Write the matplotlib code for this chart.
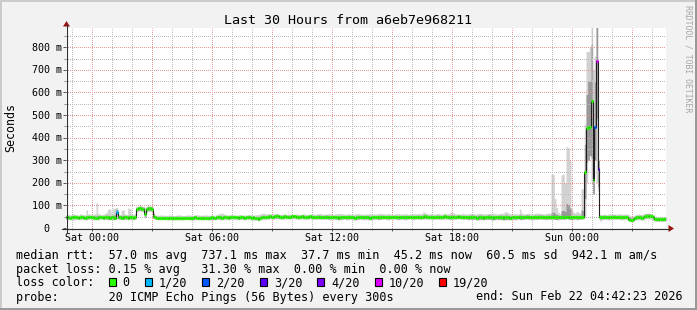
import numpy as np
import matplotlib
matplotlib.use("Agg")
import matplotlib.pyplot as plt
import matplotlib.dates as mdates
import matplotlib.transforms as mtrans
from matplotlib.patches import Rectangle, Polygon
from matplotlib.lines import Line2D
from matplotlib.ticker import MultipleLocator
from datetime import datetime, timedelta

plt.rcParams['font.family'] = ['DejaVu Sans Mono']

# ---------------- data ----------------
title = "Last 30 Hours from a6eb7e968211"
y_label = "Seconds"
watermark = "RRDTOOL / TOBI OETIKER"
start = datetime(2026, 2, 20, 22, 42, 23)
step_minutes = 5
y_max = 0.885

x_tick_times = [datetime(2026, 2, 21, 0, 0), datetime(2026, 2, 21, 6, 0),
                datetime(2026, 2, 21, 12, 0), datetime(2026, 2, 21, 18, 0),
                datetime(2026, 2, 22, 0, 0)]
x_tick_labels = ["Sat 00:00", "Sat 06:00", "Sat 12:00", "Sat 18:00", "Sun 00:00"]
y_tick_values = [0.0, 0.1, 0.2, 0.3, 0.4, 0.5, 0.6, 0.7, 0.8]
y_tick_labels = ["0", "100 m", "200 m", "300 m", "400 m", "500 m", "600 m", "700 m", "800 m"]

median_ms = np.array("""
47 48 46 47 49 48 47 46 48 49 47 46 47 48 50 49 47 46 45 47 48 47 46 48 49 47 46 48 47 46
72 48 47 46 47 48 47 46 47 48 46 47 84 87 88 86 85 60 84 88 87 86 54 47 45 44 45 44 45 44
45 44 46 45 44 45 46 45 44 43 44 45 46 45 44 45 46 47 46 45 44 45 46 45 44 45 46 47 46 45
47 48 47 46 47 48 47 46 47 48 49 48 47 46 47 48 47 46 47 48 47 46 47 45 44 42 46 48 49 48
49 50 51 50 49 52 53 51 50 49 50 51 50 49 50 51 52 51 50 49 50 51 50 49 48 50 51 50 49 48
49 50 49 48 49 50 49 48 47 48 49 48 47 46 47 48 49 48 47 48 49 48 47 46 47 48 49 48 47 48
48 47 46 47 48 49 48 47 48 49 50 49 48 47 48 49 50 49 48 47 48 49 48 47 48 49 50 49 48 49
50 49 48 49 50 51 50 49 50 49 48 49 50 49 48 49 50 51 50 49 48 49 50 49 50 51 50 49 48 49
48 47 48 49 48 47 46 47 48 47 46 47 48 49 48 47 46 47 48 47 48 47 46 47 48 47 46 47 48 47
48 49 48 47 48 49 50 49 48 47 48 49 48 49 50 49 48 47 48 49 48 49 50 49 48 49 48 47 48 49
48 49 48 47 48 49 48 47 48 49 48 250 441 449 449 560 213 446 737 263 48 47 48 49 48 47 48 49 50 49
48 49 48 47 48 49 48 42 37 36 40 46 47 48 47 46 47 52 54 53 54 52 48 40 39 38 39 38 39 40
""".split(), dtype=float)

smoke_hi_ms = np.array("""
58 60 57 59 62 60 58 57 63 60 59 58 80 62 60 58 61 63 112 65 60 58 62 64 70 84 84 66 86 88
90 62 60 79 81 62 60 88 86 63 60 64 95 96 98 95 94 90 96 97 96 95 70 58 57 56 58 57 56 57
56 57 58 57 56 55 57 58 57 56 55 56 57 58 57 56 57 58 59 58 57 56 57 58 57 56 57 58 57 56
60 62 65 66 64 60 58 57 59 60 58 57 56 58 60 58 57 56 58 60 59 58 57 58 59 60 62 66 65 63
62 64 63 60 62 64 65 62 60 61 62 60 59 61 62 60 59 60 62 61 60 59 61 62 60 59 60 62 61 60
62 63 64 62 60 61 62 63 64 62 60 62 63 64 65 63 62 60 62 63 62 61 60 62 63 64 62 61 60 62
61 62 63 64 62 61 63 64 65 63 62 61 63 64 62 61 60 62 63 64 62 61 62 63 62 61 62 63 64 62
62 63 64 63 72 68 64 62 63 62 61 62 63 64 62 61 63 64 62 63 68 70 66 63 62 61 62 63 64 62
62 63 64 65 63 62 63 64 65 64 63 62 63 64 65 64 66 63 62 63 64 65 66 72 70 66 64 63 62 64
62 63 84 66 63 62 64 65 63 62 63 64 66 65 63 64 62 63 65 66 64 240 236 130 90 70 64 235 240 200
360 355 300 80 70 66 73 70 65 172 173 460 781 781 800 900 700 760 900 300 60 58 62 60 58 62 63 61 60 62
60 62 63 61 60 62 61 60 55 52 54 58 60 62 61 60 62 64 65 66 64 62 56 52 50 48 50 49 48 50
""".split(), dtype=float)

smoke_lo_ms = np.array("""
38 37 39 38 36 37 38 39 37 36 38 37 36 38 39 37 36 38 37 36 38 39 37 38 36 37 38 37 36 38
40 38 37 39 38 36 37 38 39 37 38 37 70 74 75 72 71 45 70 74 73 72 42 38 37 36 37 36 37 36
37 36 37 38 36 35 36 37 36 35 36 37 38 37 36 35 36 37 38 37 36 35 36 37 36 35 36 37 38 37
38 37 36 37 38 37 36 37 38 39 38 37 36 37 38 37 36 37 38 37 36 37 36 35 34 32 35 37 38 37
39 40 41 40 39 40 41 40 39 38 39 40 41 40 39 40 41 40 39 38 39 40 39 38 37 39 40 39 38 37
38 39 38 37 38 39 38 37 36 37 38 37 36 35 36 37 38 37 36 37 38 37 36 35 36 37 38 37 36 37
37 36 35 36 37 38 37 36 37 38 39 38 37 36 37 38 39 38 37 36 37 38 37 36 37 38 39 38 37 38
39 38 37 38 39 40 39 38 39 38 37 38 39 38 37 38 39 40 39 38 37 38 39 38 39 40 39 38 37 38
37 36 37 38 37 36 35 36 37 36 35 36 37 38 37 36 35 36 37 36 37 36 35 36 37 36 35 36 37 36
37 38 37 36 37 38 39 38 37 36 37 38 37 38 39 38 37 36 37 38 37 40 40 38 37 36 37 40 40 40
42 40 38 37 38 37 36 37 38 40 42 48 200 300 320 200 150 300 200 160 30 36 37 38 37 36 37 38 39 38
37 38 37 36 37 38 37 34 30 29 31 35 36 37 36 35 36 40 42 43 41 37 32 30 29 30 31 30 29 31
""".split(), dtype=float)

smoke_core_ms = np.array("""
6 6 5 6 7 6 6 5 6 7 6 6 8 6 6 5 6 7 10 6 6 5 6 7 8 9 9 7 10 12
12 6 6 9 9 6 6 10 9 6 6 6 8 8 9 8 8 10 8 9 8 8 10 6 6 5 6 5 6 5
5 6 6 5 6 5 6 6 5 6 5 6 6 5 6 5 6 6 5 6 5 6 6 5 6 5 6 6 5 6
6 6 7 7 6 6 5 6 6 5 6 6 5 6 6 5 6 6 5 6 6 5 6 6 7 8 6 7 7 6
7 7 6 6 7 7 8 7 6 6 7 6 6 7 6 6 7 6 6 7 6 6 7 6 6 7 6 6 7 6
7 7 7 6 6 7 7 7 6 6 6 7 7 7 8 7 6 6 7 7 6 6 6 7 7 7 6 6 6 7
6 7 7 7 6 6 7 7 8 7 6 6 7 7 6 6 6 7 7 7 6 6 6 7 6 6 6 7 7 6
7 7 7 7 8 8 7 6 7 6 6 6 7 7 6 6 7 7 6 7 8 8 7 7 6 6 6 7 7 6
7 8 8 9 8 7 8 9 9 8 8 7 8 9 9 8 9 8 7 8 9 9 9 10 9 8 8 7 7 8
7 7 10 8 7 7 8 8 7 7 7 8 8 8 7 8 7 7 8 8 8 20 20 15 12 8 7 30 30 25
60 55 40 8 7 7 8 7 7 30 30 120 150 200 200 250 150 200 250 80 8 7 6 7 6 7 6 7 8 7
6 7 6 7 6 7 6 8 9 9 8 7 6 7 6 7 6 8 9 9 8 7 8 7 6 7 6 7 6 7
""".split(), dtype=float)

lost_pings = np.array("""
0 0 0 0 0 0 0 0 0 0 0 0 0 0 0 0 0 0 0 0 0 0 0 0 0 0 0 0 0 0
1 0 0 0 0 0 0 0 0 0 0 0 0 0 0 0 0 0 0 0 0 0 0 0 0 0 0 0 0 0
0 0 0 0 0 0 0 0 0 0 0 0 0 0 0 0 0 0 0 0 0 0 0 0 0 0 0 0 0 0
0 0 0 0 0 0 0 0 0 0 0 0 0 0 0 0 0 0 0 0 0 0 0 0 0 0 0 0 0 0
0 0 0 0 0 0 0 0 0 0 0 0 0 0 0 0 0 0 0 0 0 0 0 0 0 0 0 0 0 0
0 0 0 0 0 0 0 0 0 0 0 0 0 0 0 0 0 0 0 0 0 0 0 0 0 0 0 0 0 0
0 0 0 0 0 0 0 0 0 0 0 0 0 0 0 0 0 0 0 0 0 0 0 0 0 0 0 0 0 0
0 0 0 0 0 0 0 0 0 0 0 0 0 0 0 0 0 0 0 0 0 0 0 0 0 0 0 0 0 0
0 0 0 0 0 0 0 0 0 0 0 0 0 0 0 0 0 0 0 0 0 0 0 0 0 0 0 0 0 0
0 0 0 0 0 0 0 0 0 0 0 0 0 0 0 0 0 0 0 0 0 0 0 0 0 0 0 0 0 0
0 0 0 0 0 0 0 0 0 0 0 0 0 0 0 0 0 2 10 3 0 0 0 0 0 0 0 0 0 0
0 0 0 0 0 0 0 0 0 0 0 0 0 0 0 0 0 0 0 0 0 0 0 0 0 0 0 0 0 0
""".split(), dtype=int)

loss_thresholds = [0, 1, 2, 3, 4, 10, 19]
loss_labels = ["0", "1/20", "2/20", "3/20", "4/20", "10/20", "19/20"]
loss_colors = ["#26ff00", "#00b8ff", "#0059ff", "#5e00ff", "#7e00ff", "#dd00ff", "#ff0000"]

legend_row1 = "median rtt:  57.0 ms avg  737.1 ms max  37.7 ms min  45.2 ms now  60.5 ms sd  942.1 m am/s"
legend_row2 = "packet loss: 0.15 % avg   31.30 % max  0.00 % min  0.00 % now"
legend_row3 = "loss color:"
legend_row4 = "probe:       20 ICMP Echo Pings (56 Bytes) every 300s"
end_text = "end: Sun Feb 22 04:42:23 2026"

# ---------------- figure ----------------
W, H, DPI = 697, 310, 100
fig = plt.figure(figsize=(W / DPI, H / DPI), dpi=DPI, facecolor='#f2f2f2')


def fx(x):
    return x / W


def fy(y):
    return 1 - y / H


ax = fig.add_axes([fx(66), fy(228), 600 / W, 200 / H])
ax.set_facecolor('#ffffff')
for s in ax.spines.values():
    s.set_visible(False)

n = len(median_ms)
t_edges = mdates.date2num([start + timedelta(minutes=step_minutes * i) for i in range(n + 1)])

med = median_ms / 1000.0
hi = smoke_hi_ms / 1000.0
lo = smoke_lo_ms / 1000.0
core = smoke_core_ms / 1000.0
core_lo = np.maximum(med - core, lo)
core_hi = np.minimum(med + core, hi)


def ext(a):
    return np.append(a, a[-1])


ax.fill_between(t_edges, ext(lo), ext(hi), step='post', color='#d2d2d2', lw=0, zorder=1)
ax.fill_between(t_edges, ext(core_lo), ext(core_hi), step='post', color='#999999', lw=0, zorder=1.1)
ax.step(t_edges, ext(med), where='post', color='#202020', lw=0.8, zorder=3)

sample_colors = []
for lp in lost_pings:
    c = loss_colors[0]
    for th, col in zip(loss_thresholds, loss_colors):
        if lp >= th:
            c = col
    sample_colors.append(c)
ax.hlines(med, t_edges[:-1], t_edges[1:], colors=sample_colors, lw=2.3, zorder=3.5,
          capstyle='butt')

ax.set_xlim(t_edges[0], t_edges[-1])
ax.set_ylim(0, y_max)
ax.xaxis.set_major_locator(mdates.HourLocator(byhour=range(0, 24, 3)))
ax.xaxis.set_minor_locator(mdates.HourLocator())
ax.yaxis.set_major_locator(MultipleLocator(0.1))
ax.yaxis.set_minor_locator(MultipleLocator(0.05))
ax.set_axisbelow(False)
ax.grid(which='major', color='#e39a9a', linestyle=(0.5, (1, 1)), lw=0.72)
ax.grid(which='minor', color='#bdbdbd', linestyle=(0.5, (1, 1)), lw=0.72)
ax.tick_params(which='major', length=2.4, width=0.72, color='#555555', direction='out',
               labelbottom=False, labelleft=False)
ax.tick_params(which='minor', length=1.5, width=0.72, color='#888888', direction='out')

# axis lines + arrows
axis_col = '#303030'
fig.add_artist(Line2D([fx(62), fx(669)], [fy(228.5), fy(228.5)], color=axis_col, lw=0.8))
fig.add_artist(Line2D([fx(66.5), fx(66.5)], [fy(232), fy(25)], color=axis_col, lw=0.8))
fig.add_artist(Polygon([(fx(668.5), fy(225)), (fx(674), fy(228.5)), (fx(668.5), fy(232))],
                       closed=True, color='#9a1414', lw=0))
fig.add_artist(Polygon([(fx(63), fy(26.5)), (fx(66.5), fy(21)), (fx(70), fy(26.5))],
                       closed=True, color='#9a1414', lw=0))

# outer 3D frame
fig.add_artist(Rectangle((0, 0), fx(2), 1, transform=fig.transFigure, color='#cbcbcb', lw=0))
fig.add_artist(Rectangle((0, fy(2)), 1, 2 / H, transform=fig.transFigure, color='#cbcbcb', lw=0))
fig.add_artist(Rectangle((fx(695), 0), 2 / W, 1, transform=fig.transFigure, color='#999999', lw=0))
fig.add_artist(Rectangle((0, 0), 1, 2 / H, transform=fig.transFigure, color='#999999', lw=0))

# texts
axis_fs = 7.2
legend_fs = 8.43
adv_axis = axis_fs / 72 * DPI * 0.6021

fig.text(fx(348.5), fy(24), title, ha='center', va='baseline', fontsize=9.6, color='black')
fig.text(fx(10.5), fy(128), y_label, rotation=90, ha='center', va='center', fontsize=8.4)
fig.text(fx(688), fy(5), watermark, rotation=270, ha='center', va='top', fontsize=5.9,
         color='#a6a6a6')

xtrans = mtrans.blended_transform_factory(ax.transData, fig.transFigure)
for t, lab in zip(x_tick_times, x_tick_labels):
    fig.text(mdates.date2num(t), fy(241), lab, transform=xtrans, ha='center', va='baseline',
             fontsize=axis_fs)

ytrans = mtrans.offset_copy(mtrans.blended_transform_factory(fig.transFigure, ax.transData),
                            fig=fig, x=0, y=-3.6, units='dots')
for v, lab in zip(y_tick_values, y_tick_labels):
    xr = 61.5 if lab.endswith('m') else 61.5 - 2 * adv_axis
    fig.text(fx(xr), v, lab, transform=ytrans, ha='right', va='baseline', fontsize=axis_fs)

# legend
adv = legend_fs / 72 * DPI * 0.6021
fig.text(fx(16), fy(258.5), legend_row1, ha='left', va='baseline', fontsize=legend_fs)
fig.text(fx(16), fy(272.5), legend_row2, ha='left', va='baseline', fontsize=legend_fs)
fig.text(fx(16), fy(286.5), legend_row3, ha='left', va='baseline', fontsize=legend_fs)
fig.text(fx(16), fy(300.5), legend_row4, ha='left', va='baseline', fontsize=legend_fs)
fig.text(fx(682.5), fy(300.5), end_text, ha='right', va='baseline', fontsize=legend_fs)

bx = 108.7
for lab, col in zip(loss_labels, loss_colors):
    fig.add_artist(Rectangle((fx(bx), fy(286)), 7 / W, 8 / H, transform=fig.transFigure,
                             facecolor=col, edgecolor='black', lw=0.8))
    tx = bx + 14
    fig.text(fx(tx), fy(286.5), lab, ha='left', va='baseline', fontsize=legend_fs)
    bx = tx + len(lab) * adv + 15.2

fig.savefig("out.png", dpi=DPI, facecolor=fig.get_facecolor())
